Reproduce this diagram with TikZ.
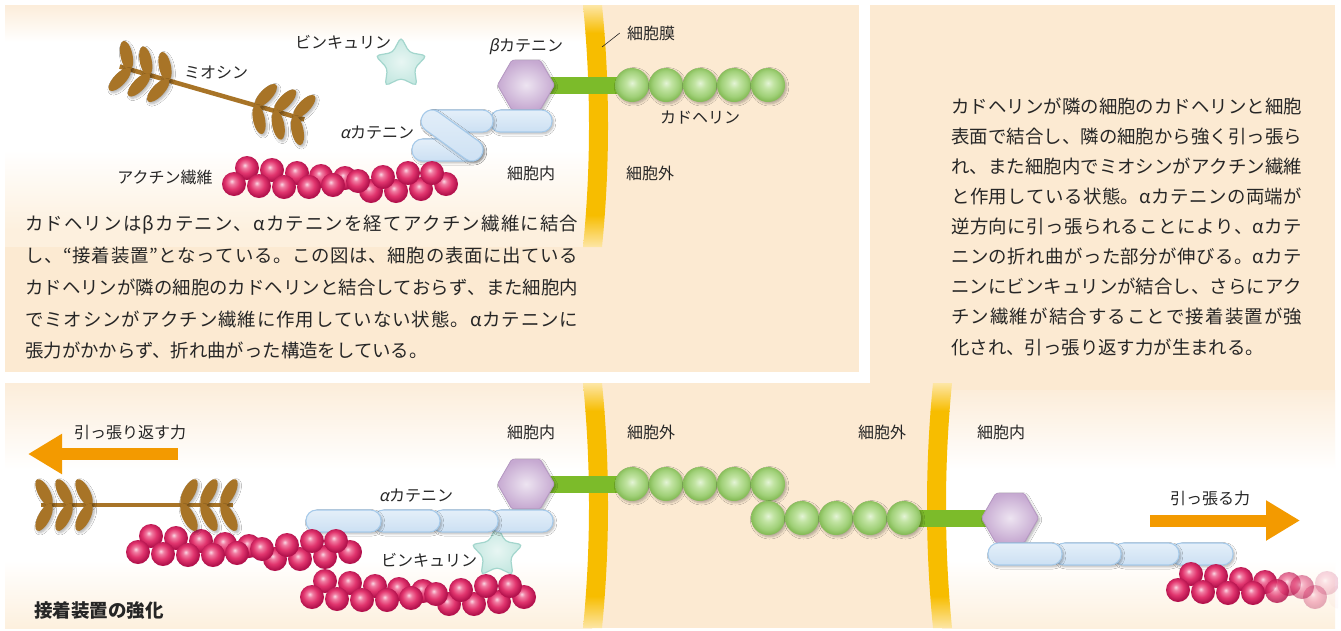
\RequirePackage{fix-cm}
\documentclass[tikz,border=0pt]{standalone}
\usepackage{fontspec}
\newfontfamily\jp{Noto Sans CJK JP}
\newfontfamily\jpsl{Noto Sans CJK JP}[FakeSlant=0.2]
\usetikzlibrary{shapes.geometric,arrows.meta,shadows.blur}

% palette
\definecolor{ink}{HTML}{262626}
\definecolor{peach}{HTML}{FCEAD2}
\definecolor{cellTop}{HTML}{FCEDDA}
\definecolor{cellBot}{HTML}{FDF0DE}
\definecolor{myel}{HTML}{F7BD00}
\definecolor{mlight}{HTML}{FDE6A6}
\definecolor{barGreen}{HTML}{7CBB2A}
\definecolor{forceC}{HTML}{F39A00}
\definecolor{myoBrown}{HTML}{A87427}
\definecolor{hexIn}{HTML}{EDE4F1}
\definecolor{hexOut}{HTML}{C6A9D1}
\definecolor{hexEdge}{HTML}{B597C2}
\definecolor{starIn}{HTML}{E8F6F3}
\definecolor{starOut}{HTML}{C3E7E0}
\definecolor{starEdge}{HTML}{A3D6CD}
\definecolor{capTop}{HTML}{E4EFF9}
\definecolor{capBot}{HTML}{CCE0F3}
\definecolor{capEdge}{HTML}{A6CAEA}
\definecolor{actA}{HTML}{FBD8E4}
\definecolor{actB}{HTML}{F07AA0}
\definecolor{actC}{HTML}{E1356E}
\definecolor{actD}{HTML}{B3124D}
\definecolor{grA}{HTML}{E4F4D6}
\definecolor{grB}{HTML}{C2E4A3}
\definecolor{grC}{HTML}{A0D078}
\definecolor{grD}{HTML}{86BC58}

\pgfdeclareradialshading{actinball}{\pgfpoint{-5bp}{6bp}}{color(0bp)=(actA); color(6bp)=(actB); color(15bp)=(actC); color(25bp)=(actD); color(50bp)=(actD)}
\pgfdeclareradialshading{greenball}{\pgfpoint{0bp}{3bp}}{color(0bp)=(grA); color(8bp)=(grB); color(19bp)=(grC); color(25bp)=(grD); color(50bp)=(grD)}

% justified line: stretchable glue between every character
\makeatletter
\def\jline#1{\jl@first#1\relax}
\def\jl@first#1{#1\jl@next}
\def\jl@next#1{\ifx\relax#1\else\hskip 0pt plus 1fil\relax#1\expandafter\jl@next\fi}
\makeatother

\tikzset{
  lbl/.style={font=\jp\fontsize{16}{16}\selectfont, text=ink, inner sep=0pt, text height=14pt, text depth=2pt},
  para/.style={font=\jp\fontsize{18.4}{18.4}\selectfont, text=ink, inner sep=0pt, anchor=west, text height=16.2pt, text depth=2.2pt},
  softshadow/.style={blur shadow={shadow xshift=1.6pt, shadow yshift=-1.8pt, shadow blur radius=2.2pt, shadow blur steps=6, shadow opacity=30}},
  gball/.style={circle, minimum size=34pt, inner sep=0pt, outer sep=0pt, shade, shading=greenball, softshadow},
  vstar/.style={star, star points=5, star point ratio=1.9, minimum size=54pt, inner sep=0pt, rounded corners=4pt, inner color=starIn, outer color=starOut, draw=starEdge, line width=1.2pt},
  hexstyle/.style={inner color=hexIn, outer color=hexOut, draw=hexEdge, line width=0.8pt, rounded corners=1.5pt, softshadow},
  capstyle/.style={rounded corners=10.5pt, top color=capTop, bottom color=capBot, draw=capEdge, line width=1.1pt, softshadow},
  gbar/.style={draw=barGreen, line width=17pt},
  force/.style={draw=forceC, line width=12pt, -{Triangle[length=34pt, width=38pt]}},
  leader/.style={draw=ink, line width=0.6pt},
  myoshaft/.style={draw=myoBrown, line width=4.5pt},
  leafstyle/.style={fill=myoBrown, softshadow},
}

% yellow membrane band with faded ends: x of left edge, bulge, top, bottom
\newcommand\membrane[4]{%
  \begin{scope}
    \clip (#1,#3) .. controls ({#1+(#2)},{#3+0.33*(#4-#3)}) and ({#1+(#2)},{#3+0.67*(#4-#3)}) .. (#1,#4)
      -- ({#1+19},#4) .. controls ({#1+19+(#2)},{#3+0.67*(#4-#3)}) and ({#1+19+(#2)},{#3+0.33*(#4-#3)}) .. ({#1+19},#3) -- cycle;
    \shade[top color=mlight, bottom color=myel] (500,#3) rectangle (1000,{#3+28});
    \fill[myel] (500,{#3+28}) rectangle (1000,{#4-32});
    \shade[top color=myel, bottom color=mlight] (500,{#4-32}) rectangle (1000,#4);
  \end{scope}}

% beta-catenin hexagon around a named centre
\newcommand\hexagon[1]{%
  \begin{scope}[shift={(#1)}]
    \draw[hexstyle] (28.5,0) -- (14.25,24.7) -- (-14.25,24.7) -- (-28.5,0) -- (-14.25,-24.7) -- (14.25,-24.7) -- cycle;
  \end{scope}}

% alpha-catenin segment
\newcommand\capsule[4]{\draw[capstyle] (#1,#2) rectangle (#3,#4);}

% actin bead and double-stranded filament (first front bead at #1,#2; #3 = opacity expression)
\newcommand\bead[3]{\shade[shading=actinball, opacity=#3] (#1,#2) circle[radius=12];}
\newcommand\actin[3]{%
  \foreach \ax/\ay in {13/-16,38/-14,63/-11,87/-8,111/-6,137/7,162/7,187/5,212/0}{%
    \pgfmathsetmacro\bx{#1+\ax}\pgfmathsetmacro\by{#2+\ay}\pgfmathsetmacro\op{#3}%
    \bead{\bx}{\by}{\op}}
  \foreach \ax/\ay in {0/0,25/2,50/3,75/3,99/1,124/-3,149/-7,174/-11,198/-11}{%
    \pgfmathsetmacro\bx{#1+\ax}\pgfmathsetmacro\by{#2+\ay}\pgfmathsetmacro\op{#3}%
    \bead{\bx}{\by}{\op}}}

% bipolar myosin: centre x, centre y, rotation
\newcommand\myosin[3]{%
  \begin{scope}[shift={(#1,#2)}, rotate=#3]
    \draw[myoshaft] (-96,0) -- (96,0);
    \foreach \vx in {-86,-66,-46}{%
      \fill[leafstyle, shift={(\vx,0)}, rotate=117.5] (14,0) ellipse[x radius=15, y radius=6];
      \fill[leafstyle, shift={(\vx,0)}, rotate=-117.5] (14,0) ellipse[x radius=15, y radius=6];}
    \foreach \vx in {46,66,86}{%
      \fill[leafstyle, shift={(\vx,0)}, rotate=62.5] (14,0) ellipse[x radius=15, y radius=6];
      \fill[leafstyle, shift={(\vx,0)}, rotate=-62.5] (14,0) ellipse[x radius=15, y radius=6];}
  \end{scope}}

\begin{document}
\begin{tikzpicture}[x=1pt,y=-1pt]
\useasboundingbox (0,0) rectangle (1341,630);

% ---------- panels and membranes ----------
\fill[white] (0,0) rectangle (1341,630);
\fill[peach] (5,5) rectangle (859,372);
\fill[peach] (870,5) rectangle (1335,628);
\fill[peach] (5,383) rectangle (1335,628);
% cell interior, upper
\shade[top color=cellTop, bottom color=white] (5,5) rectangle (593,42);
\fill[white] (5,42) rectangle (593,150);
\shade[top color=white, bottom color=cellBot] (5,150) rectangle (593,230);
\fill[cellBot] (5,230) rectangle (593,247);
% cell interior, lower left
\shade[top color=cellTop, bottom color=white] (5,383) rectangle (592,470);
\fill[white] (5,470) rectangle (592,560);
\shade[top color=white, bottom color=cellBot] (5,560) rectangle (592,628);
% cell interior, lower right
\shade[top color=cellTop, bottom color=white] (942,390) rectangle (1335,470);
\fill[white] (942,470) rectangle (1335,560);
\shade[top color=white, bottom color=cellBot] (942,560) rectangle (1335,628);
\membrane{583}{8}{5}{247}
\membrane{583}{8}{383}{628}
\membrane{933}{-8}{383}{628}

% ---------- anchor points of the molecules ----------
\coordinate (bcatA) at (526,85);
\coordinate (bcatB) at (526,484);
\coordinate (bcatC) at (1010,518);
\foreach \i/\x in {1/632,2/666,3/700,4/734,5/768} {
  \coordinate (cadA\i) at (\x,85);
  \coordinate (cadB\i) at (\x,484);}
\foreach \i/\x in {1/768,2/802,3/836,4/870,5/904}
  \coordinate (cadC\i) at (\x,518);

% cadherin stalks through the membranes
\draw[gbar] (bcatA) -- (cadA1);
\draw[gbar] (bcatB) -- (cadB1);
\draw[gbar] (cadC5) -- (bcatC);

% ---------- upper scene ----------
\node[vstar] (vinA) at (401,64) {};
\myosin{212}{93}{-16}
\hexagon{bcatA}
\capsule{490}{110}{552}{132}
\capsule{422}{110}{493}{132}
\capsule{412}{139}{483}{161}
\begin{scope}[shift={(452,135.5)}, rotate=-36]
  \draw[capstyle] (-35.5,-11) rectangle (35.5,11);
\end{scope}
\actin{234}{184}{1}
\foreach \i in {1,...,5}
  \node[gball] (cadAball\i) at (cadA\i) {};

% ---------- lower scene ----------
\hexagon{bcatB}
\node[vstar] (vinB) at (497,553) {};
\capsule{490}{510}{553}{532}
\capsule{432}{510}{498}{532}
\capsule{373}{510}{440}{532}
\capsule{306}{510}{381}{532}
\actin{138}{552}{1}
\actin{312}{597}{1}
\myosin{136.5}{505}{0}
\foreach \i in {1,...,5}
  \node[gball] (cadBball\i) at (cadB\i) {};
\foreach \i in {1,...,5}
  \node[gball] (cadCball\i) at (cadC\i) {};
\hexagon{bcatC}
\capsule{1171}{543}{1233}{565}
\capsule{1113}{543}{1179}{565}
\capsule{1054}{543}{1121}{565}
\capsule{988}{543}{1062}{565}
\begin{scope}
  \clip (942,383) rectangle (1338,628);
  \actin{1178}{590}{min(1,max(0,(1342-\bx)/80))}
\end{scope}

% force arrows
\coordinate (backTail) at (178,454);
\coordinate (backTip) at (28,454);
\draw[force] (backTail) -- (backTip);
\coordinate (pullTail) at (1150,520.5);
\coordinate (pullTip) at (1300,520.5);
\draw[force] (pullTail) -- (pullTip);

% ---------- labels ----------
\node[lbl] (lblMyo) at (216,72) {ミオシン};
\node[lbl] (lblVinA) at (343,42) {ビンキュリン};
\node[lbl] (lblBcat) at (526,45) {{\jpsl β}カテニン};
\node[lbl] (lblMem) at (651,33) {細胞膜};
\coordinate (memTick) at (602,47);
\draw[leader] (memTick) -- ([xshift=-7pt]lblMem.west);
\node[lbl] (lblCad) at (700,117) {カドヘリン};
\node[lbl] (lblAcatA) at (377,132) {{\jpsl α}カテニン};
\node[lbl] (lblAct) at (165,177) {アクチン繊維};
\node[lbl] (lblInA) at (531,173) {細胞内};
\node[lbl] (lblOutA) at (650,173) {細胞外};

\node[lbl] (lblBack) at (130,432) {引っ張り返す力};
\node[lbl] (lblInB) at (531,432) {細胞内};
\node[lbl] (lblOutB) at (651,432) {細胞外};
\node[lbl] (lblOutC) at (882,432) {細胞外};
\node[lbl] (lblInC) at (1001,432) {細胞内};
\node[lbl] (lblAcatB) at (416,495) {{\jpsl α}カテニン};
\node[lbl] (lblVinB) at (429,560) {ビンキュリン};
\node[lbl] (lblPull) at (1210,498) {引っ張る力};
\node[lbl, font=\jp\bfseries\fontsize{18.5}{18.5}\selectfont, text height=16.3pt, text depth=2.2pt] (lblStrong) at (99,610) {接着装置の強化};

% ---------- paragraphs ----------
\node[para] (txtL1) at (25,223) {\hbox to 553pt{\jline{カドヘリンはβカテニン、αカテニンを経てアクチン繊維に結合}}};
\node[para] (txtL2) at (25,255) {\hbox to 553pt{\jline{し、“接着装置”となっている。この図は、細胞の表面に出ている}}};
\node[para] (txtL3) at (25,287) {\hbox to 553pt{\jline{カドヘリンが隣の細胞のカドヘリンと結合しておらず、また細胞内}}};
\node[para] (txtL4) at (25,319) {\hbox to 553pt{\jline{でミオシンがアクチン繊維に作用していない状態。αカテニンに}}};
\node[para] (txtL5) at (25,350) {張力がかからず、折れ曲がった構造をしている。};

\node[para] (txtR1) at (951,106) {\hbox to 351pt{\jline{カドヘリンが隣の細胞のカドヘリンと細胞}}};
\node[para] (txtR2) at (951,136) {\hbox to 351pt{\jline{表面で結合し、隣の細胞から強く引っ張ら}}};
\node[para] (txtR3) at (951,166) {\hbox to 351pt{\jline{れ、また細胞内でミオシンがアクチン繊維}}};
\node[para] (txtR4) at (951,196) {\hbox to 351pt{\jline{と作用している状態。αカテニンの両端が}}};
\node[para] (txtR5) at (951,226) {\hbox to 351pt{\jline{逆方向に引っ張られることにより、αカテ}}};
\node[para] (txtR6) at (951,256) {\hbox to 351pt{\jline{ニンの折れ曲がった部分が伸びる。αカテ}}};
\node[para] (txtR7) at (951,286) {\hbox to 351pt{\jline{ニンにビンキュリンが結合し、さらにアク}}};
\node[para] (txtR8) at (951,316) {\hbox to 351pt{\jline{チン繊維が結合することで接着装置が強}}};
\node[para] (txtR9) at (951,347) {化され、引っ張り返す力が生まれる。};
\end{tikzpicture}
\end{document}
